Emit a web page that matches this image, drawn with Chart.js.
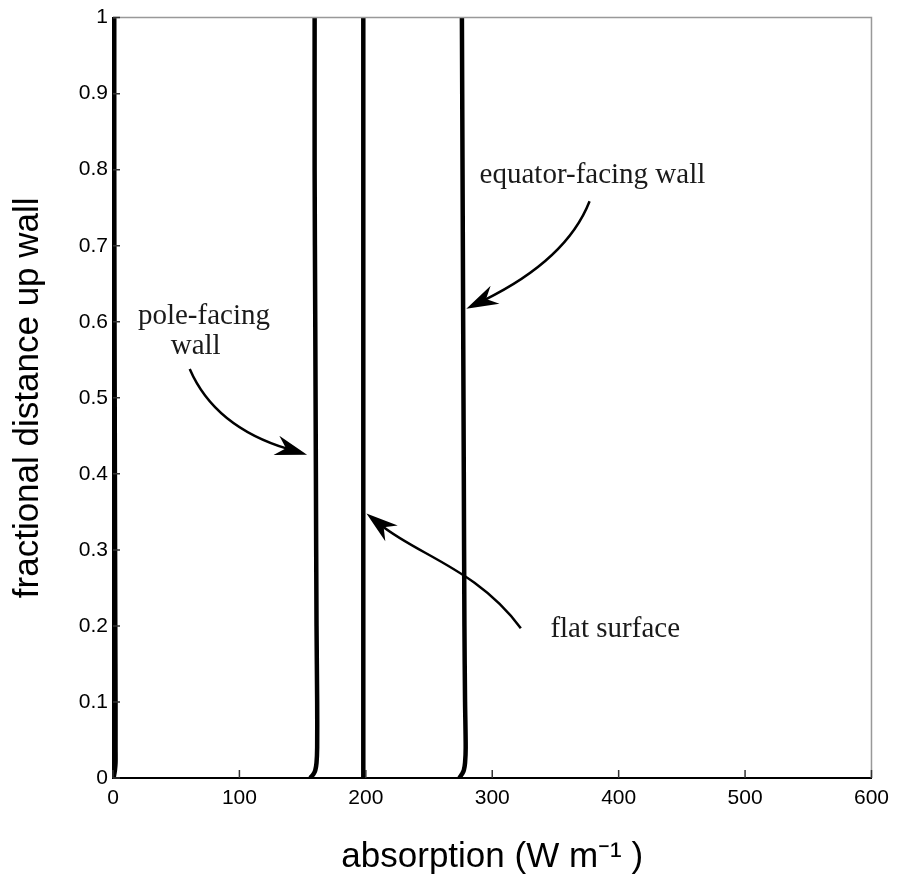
<!DOCTYPE html>
<html>
<head>
<meta charset="utf-8">
<title>absorption up wall</title>
<script src="https://cdn.jsdelivr.net/npm/chart.js@4.4.0/dist/chart.umd.min.js"></script>
<style>
  body { margin: 0; background: #fff; }
  #wrap { width: 897px; height: 880px; }
</style>
</head>
<body>
<div id="wrap"><canvas id="wallChart" width="897" height="880"></canvas></div>
<script>
// fractional height up the wall (shared by every curve)
var fracHeight = [0, 0.005, 0.01, 0.02, 0.04, 0.1, 0.2, 0.4, 0.6, 0.8, 1];

// absorption (W m-1)
var shadedWall   = [0.5, 1, 1.5, 2, 2, 2, 1.8, 1.5, 1.2, 1, 1];
var poleWall     = [156, 158.5, 160, 161, 161.5, 161.5, 161, 160.5, 160, 159.5, 159.5];
var flatSurface  = [198, 198, 198, 198, 198, 198, 198, 198, 198, 198, 198];
var equatorWall  = [274, 276, 277.5, 278.5, 279, 278.5, 278, 277.5, 277, 276.5, 276];

var xTicks = [0, 100, 200, 300, 400, 500, 600];
var yTicks = [0, 0.1, 0.2, 0.3, 0.4, 0.5, 0.6, 0.7, 0.8, 0.9, 1];

// labels + arrows, in data units [absorption, fraction]
var notes = [
  { text: 'equator-facing wall', at: [290, 0.782], align: 'left',
    arrow: [[377, 0.7585], [359, 0.682], [279.5, 0.617]] },
  { text: 'pole-facing', at: [19.7, 0.597], align: 'left' },
  { text: 'wall', at: [65.4, 0.558], align: 'center',
    arrow: [[60.7, 0.538], [80.4, 0.462], [153.5, 0.4252]] },
  { text: 'flat surface', at: [346, 0.185], align: 'left',
    arrow: [[322.6, 0.197], [289, 0.273], [242, 0.293], [200.5, 0.3478]] }
];

function toPoints(xs) {
  return xs.map(function (v, i) { return { x: v, y: fracHeight[i] }; });
}

function line(xs) {
  return {
    data: toPoints(xs),
    showLine: true,
    borderColor: '#000',
    borderWidth: 4.5,
    pointRadius: 0,
    tension: 0.3,
    fill: false
  };
}

// arrowhead with a notch, pointing along (dx,dy)
function arrowHead(ctx, x, y, dx, dy) {
  var len = Math.sqrt(dx * dx + dy * dy);
  var ux = dx / len, uy = dy / len;
  var px = -uy, py = ux;
  var L = 32, W = 10, N = 22;
  ctx.beginPath();
  ctx.moveTo(x, y);
  ctx.lineTo(x - ux * L + px * W, y - uy * L + py * W);
  ctx.lineTo(x - ux * N, y - uy * N);
  ctx.lineTo(x - ux * L - px * W, y - uy * L - py * W);
  ctx.closePath();
  ctx.fill();
}

var frameAndNotes = {
  id: 'frameAndNotes',
  afterDatasetsDraw: function (chart) {
    var ctx = chart.ctx, a = chart.chartArea;
    var xs = chart.scales.x, ys = chart.scales.y;
    ctx.save();

    // grey top and right frame
    ctx.strokeStyle = '#999';
    ctx.lineWidth = 1.5;
    ctx.beginPath();
    ctx.moveTo(a.left, a.top);
    ctx.lineTo(a.right, a.top);
    ctx.lineTo(a.right, a.bottom);
    ctx.stroke();

    // inward ticks
    ctx.strokeStyle = '#333';
    ctx.lineWidth = 1.5;
    ctx.beginPath();
    xTicks.forEach(function (t) {
      var px = xs.getPixelForValue(t);
      ctx.moveTo(px, a.bottom);
      ctx.lineTo(px, a.bottom - 8);
    });
    yTicks.forEach(function (t) {
      var py = ys.getPixelForValue(t);
      ctx.moveTo(a.left, py);
      ctx.lineTo(a.left + 7, py);
    });
    ctx.stroke();

    // annotation text and arrows
    ctx.fillStyle = '#1a1a1a';
    ctx.strokeStyle = '#000';
    ctx.font = '29px "Liberation Serif", "Times New Roman", serif';
    ctx.textBaseline = 'alphabetic';
    notes.forEach(function (n) {
      ctx.textAlign = n.align;
      ctx.fillText(n.text, xs.getPixelForValue(n.at[0]), ys.getPixelForValue(n.at[1]));
      if (!n.arrow) return;
      var p = n.arrow.map(function (q) {
        return [xs.getPixelForValue(q[0]), ys.getPixelForValue(q[1])];
      });
      var last = p[p.length - 1], prev = p[p.length - 2];
      // stop the shaft inside the head so the tip stays sharp
      var dx = last[0] - prev[0], dy = last[1] - prev[1];
      var d = Math.sqrt(dx * dx + dy * dy);
      var end = [last[0] - dx / d * 20, last[1] - dy / d * 20];
      ctx.lineWidth = 2.5;
      ctx.beginPath();
      ctx.moveTo(p[0][0], p[0][1]);
      if (p.length === 3) {
        ctx.quadraticCurveTo(p[1][0], p[1][1], end[0], end[1]);
      } else {
        ctx.bezierCurveTo(p[1][0], p[1][1], p[2][0], p[2][1], end[0], end[1]);
      }
      ctx.stroke();
      ctx.fillStyle = '#000';
      arrowHead(ctx, last[0], last[1], dx, dy);
      ctx.fillStyle = '#1a1a1a';
    });
    ctx.restore();
  }
};

var sansFont = '"Liberation Sans", Arial, Helvetica, sans-serif';

var chart = new Chart(document.getElementById('wallChart').getContext('2d'), {
  type: 'scatter',
  data: {
    datasets: [line(shadedWall), line(poleWall), line(flatSurface), line(equatorWall)]
  },
  options: {
    responsive: false,
    devicePixelRatio: 1,
    animation: false,
    layout: { padding: { top: 16, right: 23, left: 0, bottom: 0 } },
    plugins: {
      legend: { display: false },
      tooltip: { enabled: false }
    },
    scales: {
      x: {
        type: 'linear',
        min: 0,
        max: 600,
        afterBuildTicks: function (s) { s.ticks = xTicks.map(function (v) { return { value: v }; }); },
        afterFit: function (s) { s.height = 102; },
        grid: { display: false, drawTicks: false },
        border: { color: '#000', width: 2 },
        ticks: {
          padding: 8,
          color: '#000',
          maxRotation: 0,
          font: { family: sansFont, size: 21 }
        },
        title: {
          display: true,
          text: 'absorption (W m\u207B\u00B9 )',
          color: '#000',
          padding: { top: 0, bottom: 2 },
          font: { family: sansFont, size: 35 }
        }
      },
      y: {
        type: 'linear',
        min: 0,
        max: 1,
        afterBuildTicks: function (s) { s.ticks = yTicks.map(function (v) { return { value: v }; }); },
        afterFit: function (s) { s.width = 113; },
        grid: { display: false, drawTicks: false },
        border: { color: '#000', width: 2 },
        ticks: {
          padding: 5,
          color: '#000',
          font: { family: sansFont, size: 21 },
          callback: function (v) { return String(+v.toFixed(1)); }
        },
        title: {
          display: true,
          text: 'fractional distance up wall',
          color: '#000',
          padding: { top: 7, bottom: 0 },
          font: { family: sansFont, size: 35 }
        }
      }
    }
  },
  plugins: [frameAndNotes]
});
</script>
</body>
</html>
